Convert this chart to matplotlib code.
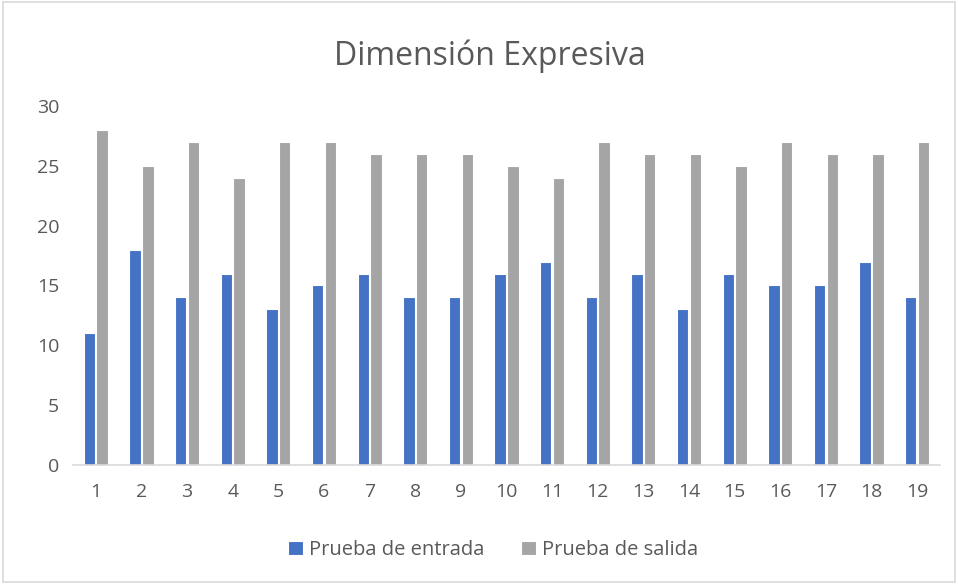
import numpy as np
import matplotlib
matplotlib.use("Agg")
from matplotlib import pyplot as plt
from matplotlib.patches import Rectangle

plt.rcParams['font.family'] = ['Open Sans', 'DejaVu Sans']

categories = [str(i) for i in range(1, 20)]
entrada = [11, 18, 14, 16, 13, 15, 16, 14, 14, 16, 17, 14, 16, 13, 16, 15, 15, 17, 14]
salida = [28, 25, 27, 24, 27, 27, 26, 26, 26, 25, 24, 27, 26, 26, 25, 27, 26, 26, 27]

fig = plt.figure(figsize=(9.58, 5.84), dpi=100)
ax = fig.add_axes([0.0762, 0.2038, 0.905, 0.6147])

x = np.arange(1, 20)
w = 0.25
ax.bar(x - 0.14, entrada, w, color='#4472C4', edgecolor='white', linewidth=0.8, label='Prueba de entrada')
ax.bar(x + 0.14, salida, w, color='#A5A5A5', edgecolor='white', linewidth=0.8, label='Prueba de salida')

ax.set_xlim(0.5, 19.5)
ax.set_ylim(0, 30)
ax.set_yticks(range(0, 31, 5))
ax.set_xticks(x)
ax.set_xticklabels(categories)
for s in ['top', 'right', 'left']:
    ax.spines[s].set_visible(False)
ax.spines['bottom'].set_color('#D9D9D9')
ax.spines['bottom'].set_linewidth(1.2)
ax.tick_params(axis='both', length=0, labelsize=14, colors='#595959')
ax.tick_params(axis='x', pad=13)
ax.tick_params(axis='y', pad=10)

fig.text(0.511, 0.903, 'Dimensión Expresiva', ha='center', va='center', fontsize=23, color='#595959')
fig.legend(loc='center', bbox_to_anchor=(0.515, 0.058), ncol=2, frameon=False, fontsize=14.5,
           handlelength=0.75, handleheight=0.75, columnspacing=1.8, handletextpad=0.3, labelcolor='#595959')

fig.patches.append(Rectangle((0.003, 0.003), 0.994, 0.994, transform=fig.transFigure,
                             fill=False, edgecolor='#D9D9D9', linewidth=1.2))

fig.savefig('out.png', dpi=100)
